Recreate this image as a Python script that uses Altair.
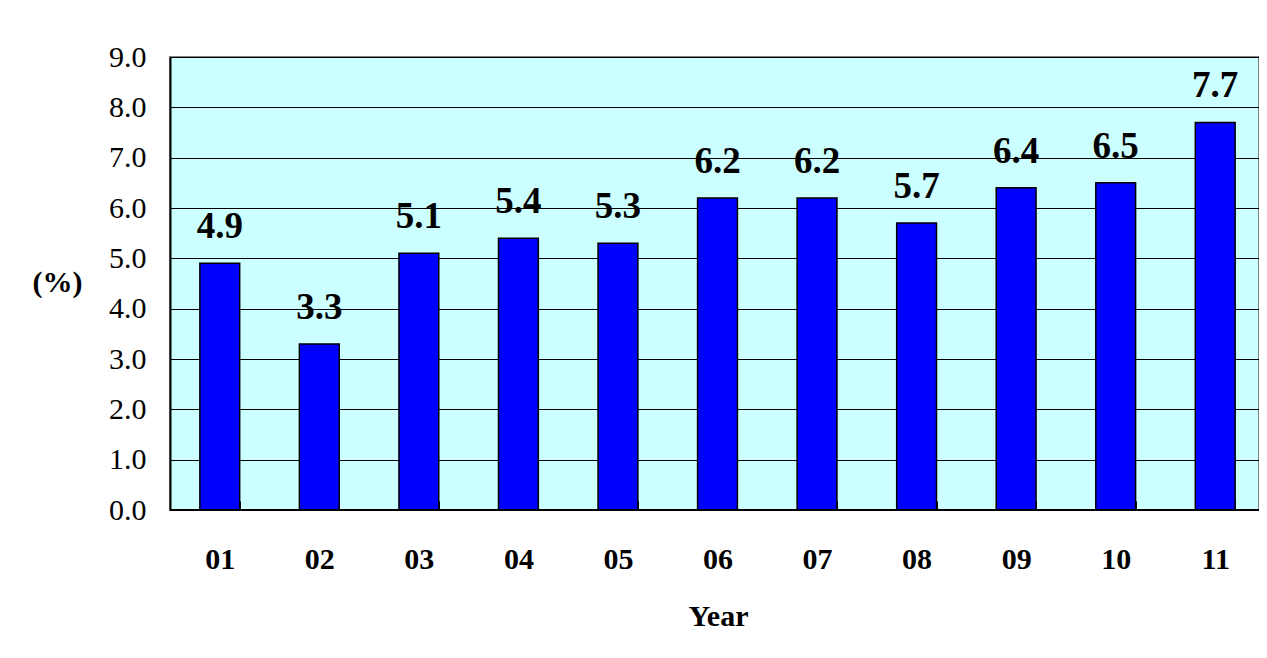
import altair as alt
import pandas as pd

years = ["01", "02", "03", "04", "05", "06", "07", "08", "09", "10", "11"]
values = [4.9, 3.3, 5.1, 5.4, 5.3, 6.2, 6.2, 5.7, 6.4, 6.5, 7.7]
y_ticks = [0, 1, 2, 3, 4, 5, 6, 7, 8, 9]

df = pd.DataFrame({"Year": years, "Value": values})

FONT = "Liberation Serif"

x = alt.X(
    "Year:N",
    sort=years,
    scale=alt.Scale(paddingInner=0.6, paddingOuter=0.3, range=[0, 1095]),
    axis=alt.Axis(
        title="Year",
        labelAngle=0,
        labelFont=FONT,
        labelFontSize=30,
        labelFontWeight="bold",
        labelColor="black",
        labelBaseline="alphabetic",
        labelPadding=58,
        tickBand="extent",
        offset=-9,
        tickSize=9,
        tickColor="black",
        tickWidth=1,
        domain=False,
        titleFont=FONT,
        titleFontSize=30,
        titleFontWeight="bold",
        titleColor="black",
        titleX=548,
        titleY=124,
        titleAlign="center",
        titleBaseline="alphabetic",
    ),
)

y = alt.Y(
    "Value:Q",
    scale=alt.Scale(domain=[0, 9], nice=False),
    axis=alt.Axis(
        title="(%)",
        values=y_ticks,
        format=".1f",
        labelFont=FONT,
        labelFontSize=30,
        labelColor="black",
        labelPadding=24,
        ticks=False,
        domain=True,
        domainColor="black",
        domainWidth=2,
        grid=True,
        gridColor="black",
        gridWidth=1,
        gridOpacity=1,
        titleFont=FONT,
        titleFontSize=30,
        titleFontWeight="bold",
        titleColor="black",
        titleAngle=0,
        titleX=-113,
        titleY=225,
        titleAlign="center",
        titleBaseline="middle",
    ),
)

bars = alt.Chart(df).mark_bar(color="#0000FF", stroke="black", strokeWidth=1.5).encode(x=x, y=y)

baseline = alt.Chart(df).mark_rule(color="black", strokeWidth=2).encode(y=alt.datum(0))

labels = alt.Chart(df).mark_text(
    font=FONT, fontSize=37, fontWeight="bold", color="black", baseline="alphabetic", dy=-25
).encode(x=alt.X("Year:N", sort=years), y=alt.Y("Value:Q"), text=alt.Text("Value:Q", format=".1f"))

chart = (
    alt.layer(bars, baseline, labels)
    .properties(
        width=1089,
        height=453,
        autosize=alt.AutoSizeParams(type="none"),
        padding={"left": 162, "top": 49, "right": 0, "bottom": 132},
        background="white",
    )
    .configure_view(fill="#CCFFFF", stroke="#808080", strokeWidth=2)
)

chart.save("out.html", embed_options={"renderer": "svg", "actions": False})
